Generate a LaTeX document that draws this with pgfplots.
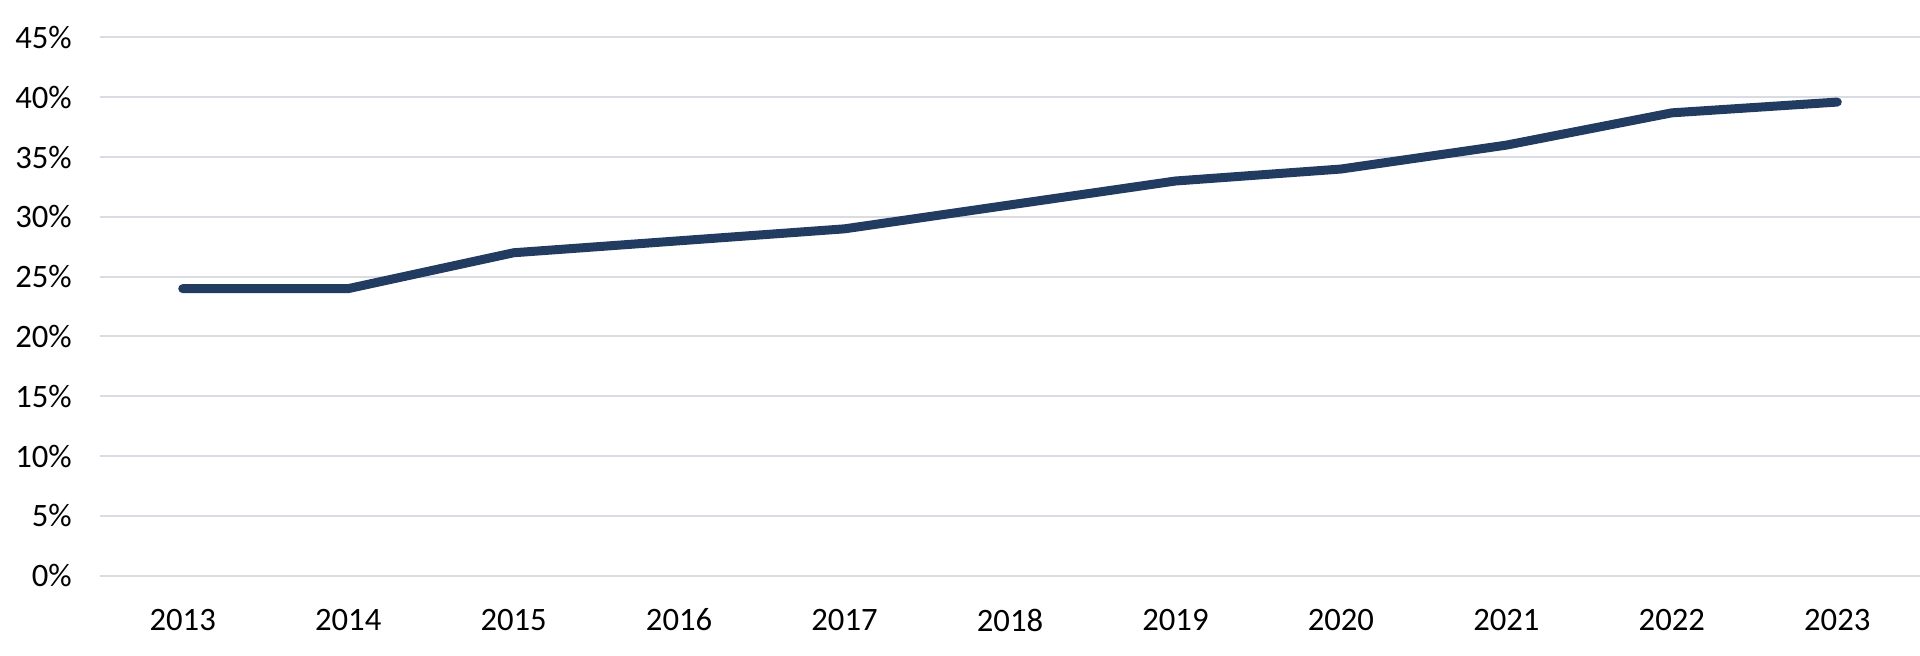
\documentclass[border=0pt]{standalone}
\usepackage{pgfplots}
\pgfplotsset{compat=1.18}
\usepackage{fontspec}
\setmainfont{Carlito}
\definecolor{navy}{RGB}{33,60,96}
\definecolor{gridc}{RGB}{217,220,226}
\begin{document}
\fontsize{9.8}{11}\selectfont
\begin{tikzpicture}
\useasboundingbox (-30pt,-24.1pt) rectangle (546pt,172.7pt);
\begin{axis}[
  at={(0,0)}, anchor=south west,
  scale only axis, width=546pt, height=161.45pt,
  xmin=-0.5, xmax=10.5, ymin=0, ymax=45,
  xtick={0,...,10},
  xticklabels={2013,2014,2015,2016,2017,2018,2019,2020,2021,2022,2023},
  ytick={0,5,...,45},
  yticklabel={\pgfmathprintnumber{\tick}\%},
  /pgf/number format/assume math mode=true,
  major tick length=0pt,
  axis line style={draw=none},
  ymajorgrids, grid style={gridc, line width=0.6pt},
  ticklabel style={font=\fontsize{9.8}{11}\selectfont, text=black},
  yticklabel style={xshift=-5pt},
  xticklabel style={yshift=-6.5pt},
  clip=false,
]
\addplot[navy, line width=2.7pt, line cap=round, line join=round] coordinates {
(0,24) (1,24) (2,27) (3,28) (4,29) (5,31) (6,33) (7,34) (8,36) (9,38.7) (10,39.6)
};
\end{axis}
\end{tikzpicture}
\end{document}
